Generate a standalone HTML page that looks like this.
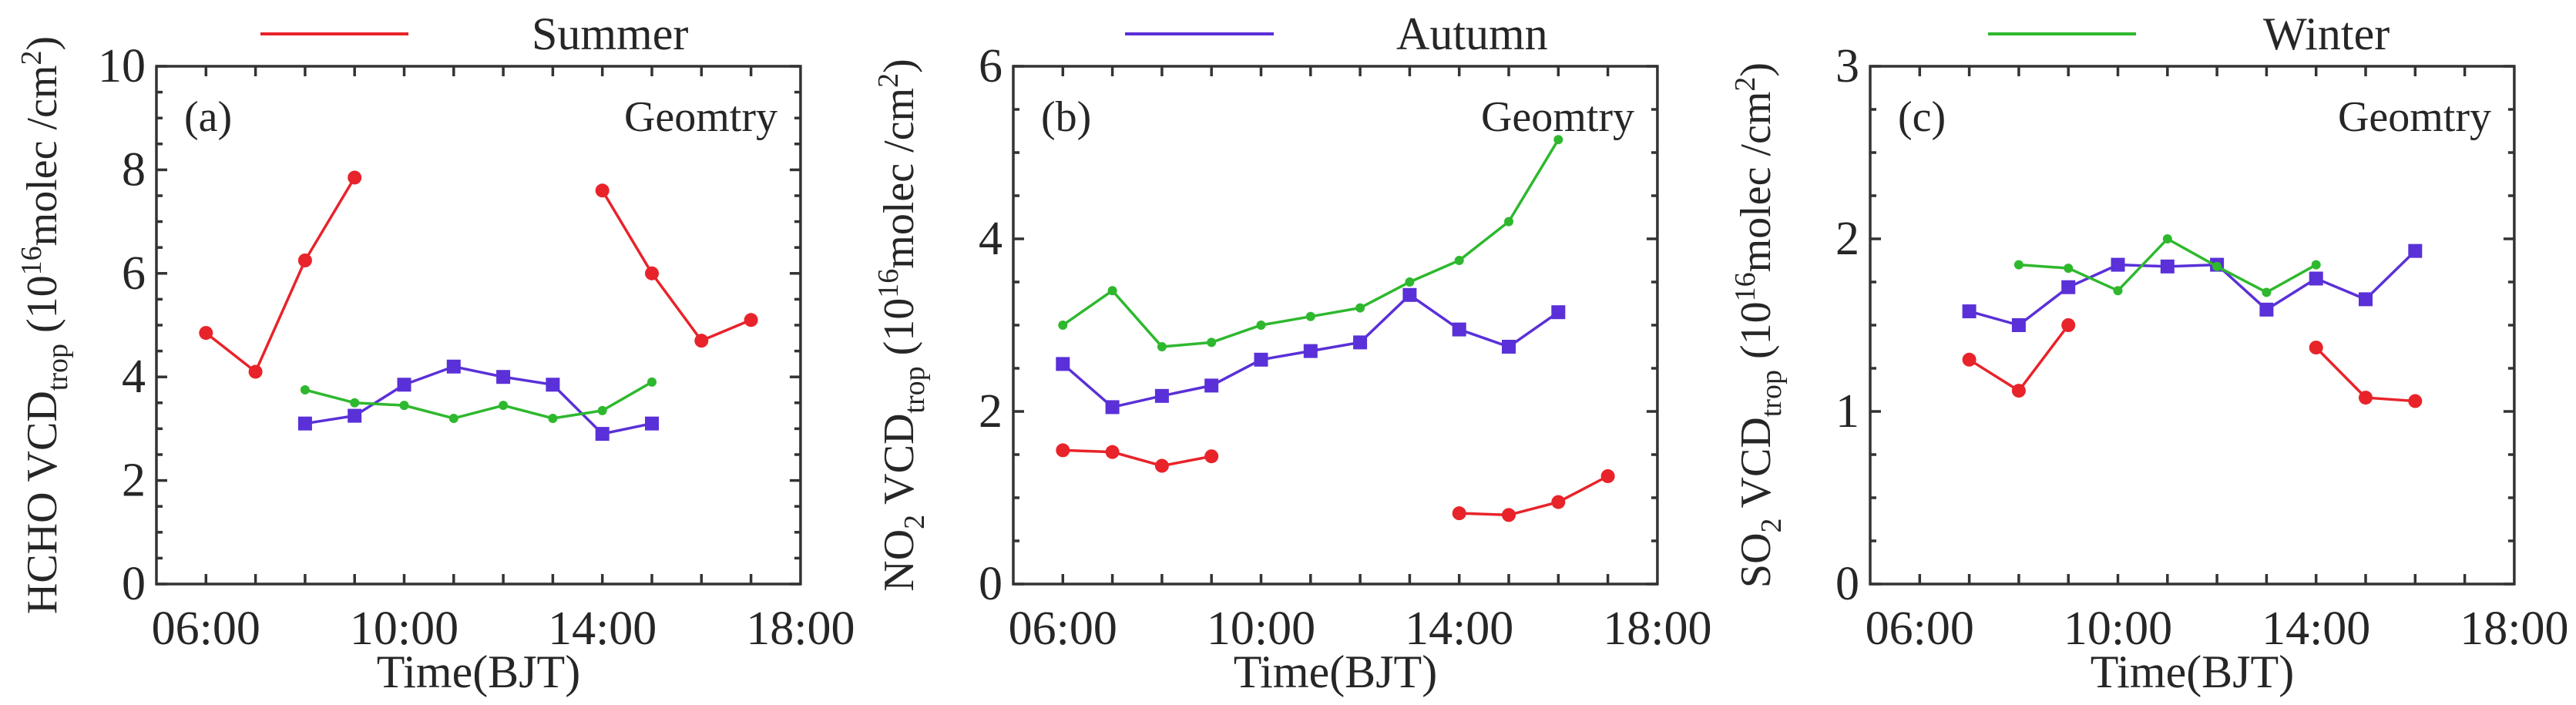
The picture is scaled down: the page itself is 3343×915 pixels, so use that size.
<!DOCTYPE html>
<html><head><meta charset="utf-8"><style>
html,body{margin:0;padding:0;background:#fff;}
svg{display:block;font-family:"Liberation Serif",serif;}
</style></head><body>
<svg id="fig" width="3343" height="915" viewBox="0 0 3343 915"></svg>
<script>
const hours = [5,6,7,8,9,10,11,12,13,14,15,16,17,18];
const xTickLabels = ["06:00","10:00","14:00","18:00"];
const xTickHours = [6,10,14,18];

const aSummerX=[6,7,8,9,14,15,16,17];
const aSummerY=[4.85,4.1,6.25,7.85,7.6,6.0,4.7,5.1];
const aAutumnX=[8,9,10,11,12,13,14,15];
const aAutumnY=[3.1,3.25,3.85,4.2,4.0,3.85,2.9,3.1];
const aWinterX=[8,9,10,11,12,13,14,15];
const aWinterY=[3.75,3.5,3.45,3.2,3.45,3.2,3.35,3.9];

const bSummerX=[6,7,8,9,14,15,16,17];
const bSummerY=[1.55,1.53,1.37,1.48,0.82,0.8,0.95,1.25];
const bAutumnX=[6,7,8,9,10,11,12,13,14,15,16];
const bAutumnY=[2.55,2.05,2.18,2.3,2.6,2.7,2.8,3.35,2.95,2.75,3.15];
const bWinterX=[6,7,8,9,10,11,12,13,14,15,16];
const bWinterY=[3.0,3.4,2.75,2.8,3.0,3.1,3.2,3.5,3.75,4.2,5.15];

const cSummerX=[7,8,9,14,15,16];
const cSummerY=[1.3,1.12,1.5,1.37,1.08,1.06];
const cAutumnX=[7,8,9,10,11,12,13,14,15,16];
const cAutumnY=[1.58,1.5,1.72,1.85,1.84,1.85,1.59,1.77,1.65,1.93];
const cWinterX=[8,9,10,11,12,13,14];
const cWinterY=[1.85,1.83,1.7,2.0,1.84,1.69,1.85];

const aYTicks=[0,2,4,6,8,10];
const bYTicks=[0,2,4,6];
const cYTicks=[0,1,2,3];

const RED="#e8232a", BLUE="#5a30d8", GREEN="#2eb82e";
const NS="http://www.w3.org/2000/svg";
const svg=document.getElementById('fig');
function mk(tag,attrs,parent){const e=document.createElementNS(NS,tag);for(const k in attrs)e.setAttribute(k,attrs[k]);(parent||svg).appendChild(e);return e;}

const panels=[
 {key:'a',left:203,ymax:10,minor:0.5,yt:aYTicks,label:'(a)',mol:'HCHO',sub:'',
  series:[[aSummerX,aSummerY,RED,'summer'],[aAutumnX,aAutumnY,BLUE,'autumn'],[aWinterX,aWinterY,GREEN,'winter']],
  leg:[338,530,690,'Summer',RED]},
 {key:'b',left:1315,ymax:6,minor:0.5,yt:bYTicks,label:'(b)',mol:'NO',sub:'2',
  series:[[bSummerX,bSummerY,RED,'summer'],[bAutumnX,bAutumnY,BLUE,'autumn'],[bWinterX,bWinterY,GREEN,'winter']],
  leg:[1460,1653,1812,'Autumn',BLUE]},
 {key:'c',left:2427,ymax:3,minor:0.25,yt:cYTicks,label:'(c)',mol:'SO',sub:'2',
  series:[[cSummerX,cSummerY,RED,'summer'],[cAutumnX,cAutumnY,BLUE,'autumn'],[cWinterX,cWinterY,GREEN,'winter']],
  leg:[2580,2772,2937,'Winter',GREEN]}
];
const TOP=86,BOT=758,HPX=64.3,TXT='#262626';
panels.forEach(p=>{
  const g=mk('g',{});
  
  
  const L=p.left,R=L+13*HPX;
  const xs=h=>L+(h-5)*HPX;
  const ys=v=>BOT-(v/p.ymax)*(BOT-TOP);
  const ll=mk('line',{x1:p.leg[0],x2:p.leg[1],y1:44,y2:44,stroke:p.leg[4],'stroke-width':4},g);
  
  
  const lt=mk('text',{x:p.leg[2],y:64,'font-size':60,fill:TXT},g);lt.textContent=p.leg[3];
  
  
  const fr=mk('rect',{x:L,y:TOP,width:R-L,height:BOT-TOP,fill:'none',stroke:'#333','stroke-width':3.5},g);
  
  
  hours.forEach(h=>{if(h===5||h===18)return;const x=xs(h);
    mk('line',{x1:x,x2:x,y1:BOT,y2:BOT-13,stroke:'#333','stroke-width':3.5},g);
    mk('line',{x1:x,x2:x,y1:TOP,y2:TOP+13,stroke:'#333','stroke-width':3.5},g);});
  xTickHours.forEach((h,i)=>{const t=mk('text',{x:xs(h),y:836,'font-size':62,'text-anchor':'middle',fill:TXT},g);t.textContent=xTickLabels[i];
    
    });
  for(let v=0;v<=p.ymax+1e-9;v+=p.minor){const y=ys(v);const major=p.yt.some(t=>Math.abs(t-v)<1e-9);const len=major?14:8;
    mk('line',{x1:L,x2:L+len,y1:y,y2:y,stroke:'#333','stroke-width':3.5},g);
    mk('line',{x1:R,x2:R-len,y1:y,y2:y,stroke:'#333','stroke-width':3.5},g);}
  p.yt.forEach(v=>{const t=mk('text',{x:L-14,y:ys(v)+20,'font-size':62,'text-anchor':'end',fill:TXT},g);t.textContent=v;
    
    });
  const xt=mk('text',{x:(L+R)/2,y:892,'font-size':60,'text-anchor':'middle',fill:TXT},g);xt.textContent='Time(BJT)';
  
  
  const pl=mk('text',{x:L+36,y:170,'font-size':56,fill:TXT},g);pl.textContent=p.label;
  
  
  const ge=mk('text',{x:L+806,y:170,'font-size':56,'text-anchor':'end',fill:TXT},g);ge.textContent='Geomtry';
  
  
  const yt=mk('text',{x:0,y:0,'font-size':56,'text-anchor':'middle',fill:TXT,transform:`translate(${L-130},422) rotate(-90)`},g);
  
  
  let html=p.mol;
  if(p.sub)html+=`<tspan font-size="38" dy="14">${p.sub}</tspan><tspan dy="-14"> </tspan>`;else html+=' ';
  html+=`VCD<tspan font-size="38" dy="14">trop</tspan><tspan dy="-14"> (10</tspan><tspan font-size="38" dy="-20">16</tspan><tspan dy="20">molec /cm</tspan><tspan font-size="38" dy="-20">2</tspan><tspan dy="20">)</tspan>`;
  yt.innerHTML=html;
  p.series.forEach(s=>{const [X,Y,col,nm]=s;
    const segs=[];let cur=[];
    X.forEach((h,i)=>{if(i>0&&h-X[i-1]>1){segs.push(cur);cur=[];}cur.push([xs(h),ys(Y[i])]);});segs.push(cur);
    segs.forEach(sg=>{const pl=mk('polyline',{points:sg.map(q=>q.join(',')).join(' '),fill:'none',stroke:col,'stroke-width':3.5},g);
      
      });
    X.forEach((h,i)=>{const x=xs(h),y=ys(Y[i]);let m;
      if(nm==='autumn')m=mk('rect',{x:x-9,y:y-9,width:18,height:18,fill:col},g);
      else m=mk('circle',{cx:x,cy:y,r:nm==='summer'?9:6,fill:col},g);
      
      });
  });
});
</script>
</body></html>
